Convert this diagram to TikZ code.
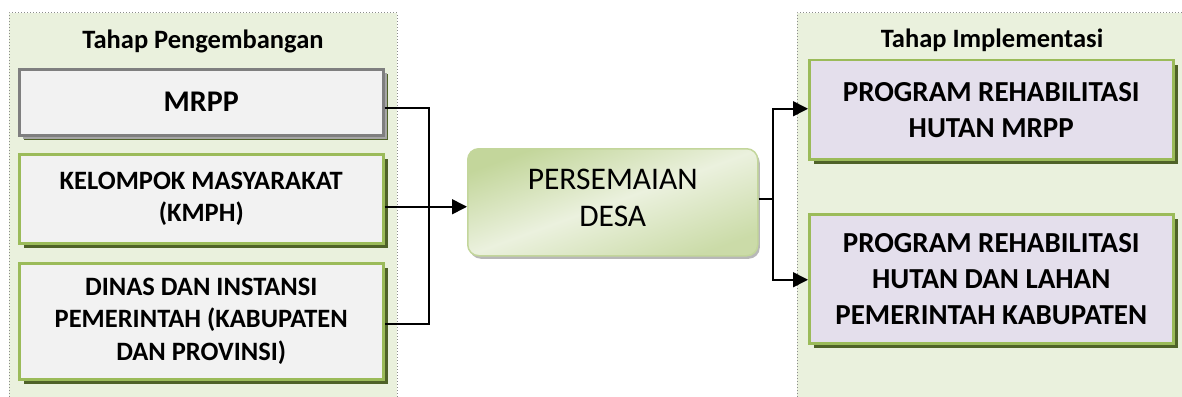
\documentclass[tikz,border=0pt]{standalone}
\usepackage{fontspec}
\setmainfont{Carlito}
\usetikzlibrary{arrows.meta,shadows}
\definecolor{panelfill}{HTML}{EAF1DD}
\definecolor{panelline}{HTML}{8C8C8C}
\definecolor{boxgray}{HTML}{F2F2F2}
\definecolor{graybd}{HTML}{7F7F7F}
\definecolor{grayshadow}{HTML}{A6A6A6}
\definecolor{greenbd}{HTML}{9BBB59}
\definecolor{oliveshadow}{HTML}{4F6228}
\definecolor{lavender}{HTML}{E4DFEC}
\definecolor{seedgreen}{HTML}{C3D69B}
\definecolor{seedlight}{HTML}{EBF1DE}
\tikzset{
  paneltitle/.style={font=\bfseries\fontsize{26.5}{31}\selectfont, inner sep=0pt},
  sourcebox/.style={draw=greenbd, line width=2.5pt, fill=boxgray, anchor=north west,
    minimum width=364pt, align=center, inner sep=2pt,
    font=\bfseries\fontsize{26.5}{32.5}\selectfont,
    drop shadow={shadow xshift=5pt, shadow yshift=-5pt, fill=oliveshadow, opacity=1}},
  graybox/.style={sourcebox, draw=graybd, font=\bfseries\fontsize{30}{36}\selectfont,
    drop shadow={shadow xshift=4pt, shadow yshift=-4pt, fill=grayshadow, opacity=1}},
  targetbox/.style={sourcebox, fill=lavender, minimum width=364pt,
    font=\bfseries\fontsize{29}{36}\selectfont},
  hubbox/.style={draw=seedgreen, line width=1.5pt, rounded corners=11pt,
    top color=seedgreen, bottom color=seedgreen!80!seedlight, middle color=seedlight,
    shading angle=20, anchor=north west, minimum width=290pt, minimum height=107pt,
    align=center, font=\fontsize{31.5}{37}\selectfont, text depth=9pt,
    drop shadow={shadow xshift=2pt, shadow yshift=-3pt, fill=grayshadow, opacity=0.8}},
  link/.style={draw=black, line width=1.6pt},
  arrowlink/.style={link, -{Triangle[length=15pt,width=15pt]}}
}
\begin{document}
\begin{tikzpicture}[x=1pt, y=-1pt]
  \useasboundingbox (0,0) rectangle (1182,396);

  % phase panels
  \fill[panelfill] (9,13) rectangle (397,400);
  \draw[panelline, dotted, line width=1pt] (9,400) -- (9,13) -- (397,13) -- (397,400);
  \fill[panelfill] (797,13) rectangle (1190,400);
  \draw[panelline, dotted, line width=1pt] (797,400) -- (797,13) -- (1190,13);

  \node[paneltitle] (devtitle) at (203,41) {Tahap Pengembangan};
  \node[paneltitle] (imptitle) at (992,40) {Tahap Implementasi};

  % development sources
  \node[graybox, minimum height=66pt] (mrpp) at (18,68) {MRPP};
  \node[sourcebox, minimum height=89pt] (kmph) at (18,153)
    {KELOMPOK MASYARAKAT\\(KMPH)};
  \node[sourcebox, minimum height=116pt] (dinas) at (18,262)
    {DINAS DAN INSTANSI\\PEMERINTAH (KABUPATEN\\DAN PROVINSI)};

  % central nursery
  \node[hubbox] (desa) at (467,148) {PERSEMAIAN\\DESA};

  % implementation programmes
  \node[targetbox, minimum height=99pt] (prog1) at (808,59)
    {PROGRAM REHABILITASI\\HUTAN MRPP};
  \node[targetbox, minimum height=129pt] (prog2) at (808,213)
    {PROGRAM REHABILITASI\\HUTAN DAN LAHAN\\PEMERINTAH KABUPATEN};

  % connectors
  \coordinate (jl) at (429,0);
  \coordinate (jr) at (773,0);
  \path ([yshift=-6pt]mrpp.east) coordinate (mrppout)
        ([yshift=-3pt]dinas.east) coordinate (dinasout)
        ([yshift=-8pt]kmph.east) coordinate (kmphout)
        ([yshift=3pt]desa.east) coordinate (desaout)
        ([yshift=1pt]prog1.west) coordinate (prog1in)
        ([yshift=-1pt]prog2.west) coordinate (prog2in);

  \draw[link] (mrppout) -- (mrppout -| jl) -- (dinasout -| jl) -- (dinasout);
  \draw[arrowlink] (kmphout) -- (kmphout -| desa.west);
  \draw[link] (desaout) -- (desaout -| jr);
  \draw[arrowlink] (desaout -| jr) |- (prog1in);
  \draw[arrowlink] (desaout -| jr) |- (prog2in);
\end{tikzpicture}
\end{document}
